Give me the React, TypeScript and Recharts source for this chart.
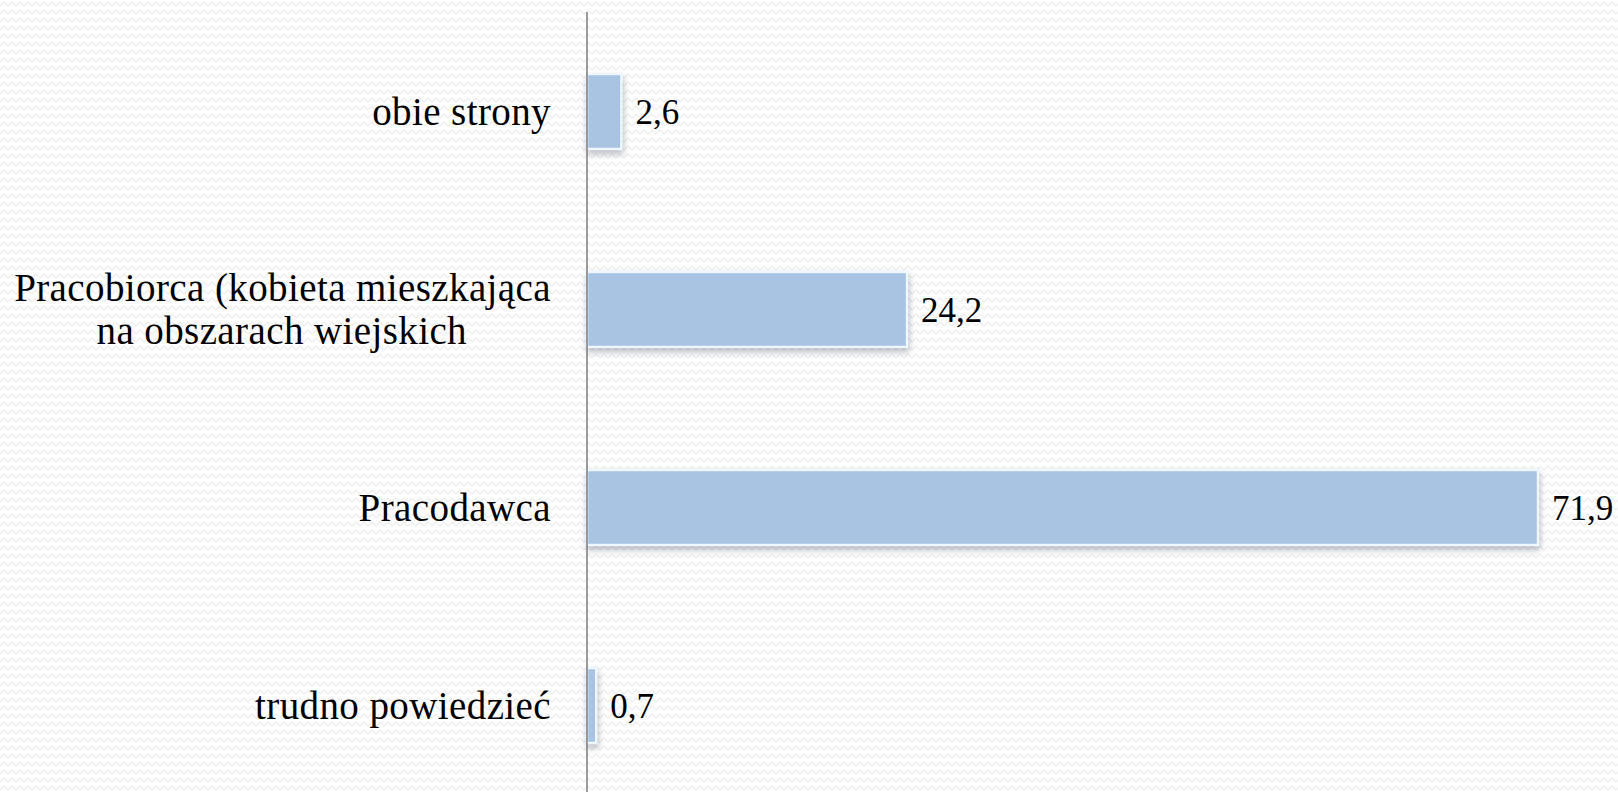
import React from "react";
import { BarChart, Bar, XAxis, YAxis, LabelList } from "recharts";

const categories = [
  "obie strony",
  "Pracobiorca (kobieta mieszkająca\nna obszarach wiejskich",
  "Pracodawca",
  "trudno powiedzieć",
];
const values = [2.6, 24.2, 71.9, 0.7];

const data = categories.map((name, i) => ({ name, value: values[i] }));

const FONT = "'Liberation Serif', 'DejaVu Serif', serif";
const FONT_SIZE = 39;
const LETTER = 0.4;

const bgSvg =
  "data:image/svg+xml;utf8," +
  encodeURIComponent(
    "<svg xmlns='http://www.w3.org/2000/svg' width='8' height='8'><polyline points='0,6 4,2 8,6' fill='none' stroke='#ececec' stroke-width='1.2'/></svg>"
  );

const CategoryTick = (props: any) => {
  const { x, y, payload } = props;
  const lines: string[] = String(payload.value).split("\n");
  const common = {
    textAnchor: "end" as const,
    fontFamily: FONT,
    fontSize: FONT_SIZE,
    fill: "#000",
    letterSpacing: LETTER,
    dy: "0.35em",
  };
  if (lines.length === 1) {
    return (
      <text x={x} y={y} {...common}>
        {lines[0]}
      </text>
    );
  }
  return (
    <g>
      <text x={x} y={y - 22} {...common}>
        {lines[0]}
      </text>
      <text x={x - 84} y={y + 21} {...common}>
        {lines[1]}
      </text>
    </g>
  );
};

const BarShape = (props: any) => {
  const { x, y, width, height } = props;
  if (width == null || height == null) return null;
  return (
    <rect
      x={x}
      y={y}
      width={Math.max(width, 0)}
      height={height}
      fill="#A9C3E3"
      stroke="#EEF7FD"
      strokeWidth={2.5}
      style={{ filter: "drop-shadow(1px 4px 3px rgba(60,70,90,0.35))" }}
    />
  );
};

export default function App() {
  return (
    <div
      style={{
        position: "absolute",
        left: 0,
        top: 0,
        width: 1618,
        height: 792,
        overflow: "hidden",
        backgroundColor: "#ffffff",
        backgroundImage: `url("${bgSvg}")`,
      }}
    >
      <BarChart
        width={1618}
        height={804}
        data={data}
        layout="vertical"
        margin={{ top: 12, right: 39, bottom: 0, left: 0 }}
        barSize={75}
      >
        <XAxis type="number" domain={[0, 75]} hide />
        <YAxis
          type="category"
          dataKey="name"
          width={587}
          tickLine={false}
          tickMargin={30}
          axisLine={{ stroke: "#7a7a7a", strokeWidth: 1.5 }}
          tick={<CategoryTick />}
          interval={0}
        />
        <Bar dataKey="value" isAnimationActive={false} shape={<BarShape />}>
          <LabelList
            dataKey="value"
            position="right"
            offset={14}
            fontFamily={FONT}
            fontSize={35}
            fill="#000"
            formatter={(v: any) => String(v).replace(".", ",")}
          />
        </Bar>
      </BarChart>
    </div>
  );
}
